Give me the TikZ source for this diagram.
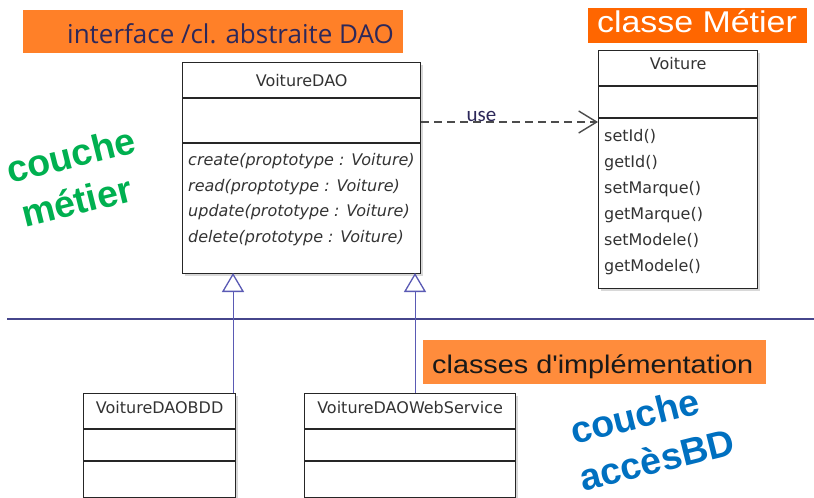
\documentclass[tikz,border=0pt]{standalone}
\usepackage{fontspec}
\setmainfont{Liberation Sans}
\newfontfamily\arialfont{Liberation Sans}[Ligatures=TeXOff]
\newfontfamily\umlfont{DejaVu Sans}
\newfontfamily\labfont{Open Sans}
\newfontfamily\calfont{Carlito}
\usetikzlibrary{arrows.meta,shadows}
\definecolor{orA}{RGB}{255,128,40}
\definecolor{orB}{RGB}{255,102,0}
\definecolor{orC}{RGB}{255,140,60}
\definecolor{navy}{RGB}{45,40,90}
\definecolor{grn}{RGB}{0,176,80}
\definecolor{blu}{RGB}{0,112,192}
\definecolor{genblue}{RGB}{90,90,180}
\definecolor{sepline}{RGB}{70,70,140}
\begin{document}
\begin{tikzpicture}[x=1pt,y=-1pt,
  umlbox/.style={draw=black!85, line width=1.3pt, fill=white, rectangle, inner sep=0pt, anchor=north west,
    drop shadow={shadow xshift=2pt, shadow yshift=-2pt, opacity=0.3}},
  umldiv/.style={draw=black!85, line width=1.3pt},
  umltxt/.style={font=\umlfont\fontsize{16}{19}\selectfont, text=black!80, inner sep=0pt},
  umlit/.style={font=\umlfont\fontsize{16}{19}\selectfont\itshape, text=black!80, inner sep=0pt, anchor=base west},
  orbox/.style={inner sep=0pt, anchor=north west},
  layer/.style={font=\bfseries\fontsize{37.5}{42}\selectfont, rotate=14, anchor=base west, inner sep=0pt},
  dep/.style={draw=black!70, line width=1.6pt, dash pattern=on 8pt off 5pt, -{Straight Barb[length=18pt,width=22pt,line width=1.4pt]}},
  gen/.style={draw=genblue, line width=1pt, -{Triangle[open,length=19pt,width=22pt,line width=1.3pt]}}
]
\fill[white] (0,0) rectangle (814,498);
\useasboundingbox (0,0) rectangle (814,498);

% orange labels
\node[orbox, fill=orA, minimum width=380pt, minimum height=43pt] (boxA) at (23,10) {};
\node[font=\labfont\fontsize{26}{30}\selectfont, text=navy, anchor=base west, inner sep=0pt] (txtA) at (67,43) {interface /cl. abstraite DAO};
\node[orbox, fill=orB, minimum width=219pt, minimum height=35pt] (boxB) at (588,8) {};
\node[font=\fontsize{30}{34}\selectfont, text=white, xscale=1.13, anchor=base, inner sep=0pt] (txtB) at (697,32) {classe Métier};

% separator line
\draw[sepline, line width=2pt] (7,319) coordinate (sepL) -- (814,319) coordinate (sepR);

\node[orbox, fill=orC, minimum width=343pt, minimum height=44pt] (boxC) at (423,340) {};
\node[font=\arialfont\fontsize{25.5}{30}\selectfont, text=black!90, xscale=1.13, anchor=base west, inner sep=0pt] (txtC) at (432,373) {classes d'implémentation};

% VoitureDAO
\node[umlbox, minimum width=238pt, minimum height=211pt] (dao) at (182,62) {};
\draw[umldiv] ([yshift=-36pt]dao.north west) -- ([yshift=-36pt]dao.north east);
\draw[umldiv] ([yshift=-81pt]dao.north west) -- ([yshift=-81pt]dao.north east);
\node[umltxt, anchor=base] (daoT) at ([yshift=-24pt]dao.north) {VoitureDAO};
\node[umlit] (m1) at ([xshift=6pt,yshift=-103pt]dao.north west) {create(proptotype : Voiture)};
\node[umlit] (m2) at ([xshift=6pt,yshift=-129pt]dao.north west) {read(proptotype : Voiture)};
\node[umlit] (m3) at ([xshift=6pt,yshift=-154.5pt]dao.north west) {update(prototype : Voiture)};
\node[umlit] (m4) at ([xshift=6pt,yshift=-180pt]dao.north west) {delete(prototype : Voiture)};

% Voiture
\node[umlbox, minimum width=159pt, minimum height=238pt] (voit) at (598,50) {};
\draw[umldiv] ([yshift=-36pt]voit.north west) -- ([yshift=-36pt]voit.north east);
\draw[umldiv] ([yshift=-68pt]voit.north west) -- ([yshift=-68pt]voit.north east);
\node[umltxt, anchor=base] (voitT) at ([yshift=-19pt]voit.north) {Voiture};
\node[umltxt, anchor=base west] (v1) at ([xshift=6pt,yshift=-91pt]voit.north west) {setId()};
\node[umltxt, anchor=base west] (v2) at ([xshift=6pt,yshift=-117pt]voit.north west) {getId()};
\node[umltxt, anchor=base west] (v3) at ([xshift=6pt,yshift=-143pt]voit.north west) {setMarque()};
\node[umltxt, anchor=base west] (v4) at ([xshift=6pt,yshift=-169pt]voit.north west) {getMarque()};
\node[umltxt, anchor=base west] (v5) at ([xshift=6pt,yshift=-195pt]voit.north west) {setModele()};
\node[umltxt, anchor=base west] (v6) at ([xshift=6pt,yshift=-221pt]voit.north west) {getModele()};

% VoitureDAOBDD
\node[umlbox, minimum width=152pt, minimum height=104pt] (bdd) at (83,393) {};
\draw[umldiv] ([yshift=-36pt]bdd.north west) -- ([yshift=-36pt]bdd.north east);
\draw[umldiv] ([yshift=-68pt]bdd.north west) -- ([yshift=-68pt]bdd.north east);
\node[umltxt, anchor=base] (bddT) at ([yshift=-20pt]bdd.north) {VoitureDAOBDD};

% VoitureDAOWebService
\node[umlbox, minimum width=211pt, minimum height=104pt] (ws) at (304,393) {};
\draw[umldiv] ([yshift=-36pt]ws.north west) -- ([yshift=-36pt]ws.north east);
\draw[umldiv] ([yshift=-68pt]ws.north west) -- ([yshift=-68pt]ws.north east);
\node[umltxt, anchor=base] (wsT) at ([yshift=-20pt]ws.north) {VoitureDAOWebService};

% dependency
\draw[dep] ([yshift=-60pt]dao.north east) -- ([yshift=-72pt]voit.north west)
  node[pos=0.34, anchor=base, yshift=1pt, font=\calfont\fontsize{21}{24}\selectfont, text=navy, inner sep=0pt] (useL) {use};

% generalizations
\coordinate (g1) at (233,273);
\coordinate (g2) at (415,273);
\draw[gen] (g1 |- bdd.north) -- (g1);
\draw[gen] (g2 |- ws.north) -- (g2);

% layer names
\node[layer, text=grn] (cm1) at (10,184) {couche};
\node[layer, text=grn] (cm2) at (25,228) {métier};
\node[layer, text=blu] (ca1) at (574,445) {couche};
\node[layer, text=blu] (ca2) at (583,492) {accèsBD};
\end{tikzpicture}
\end{document}
